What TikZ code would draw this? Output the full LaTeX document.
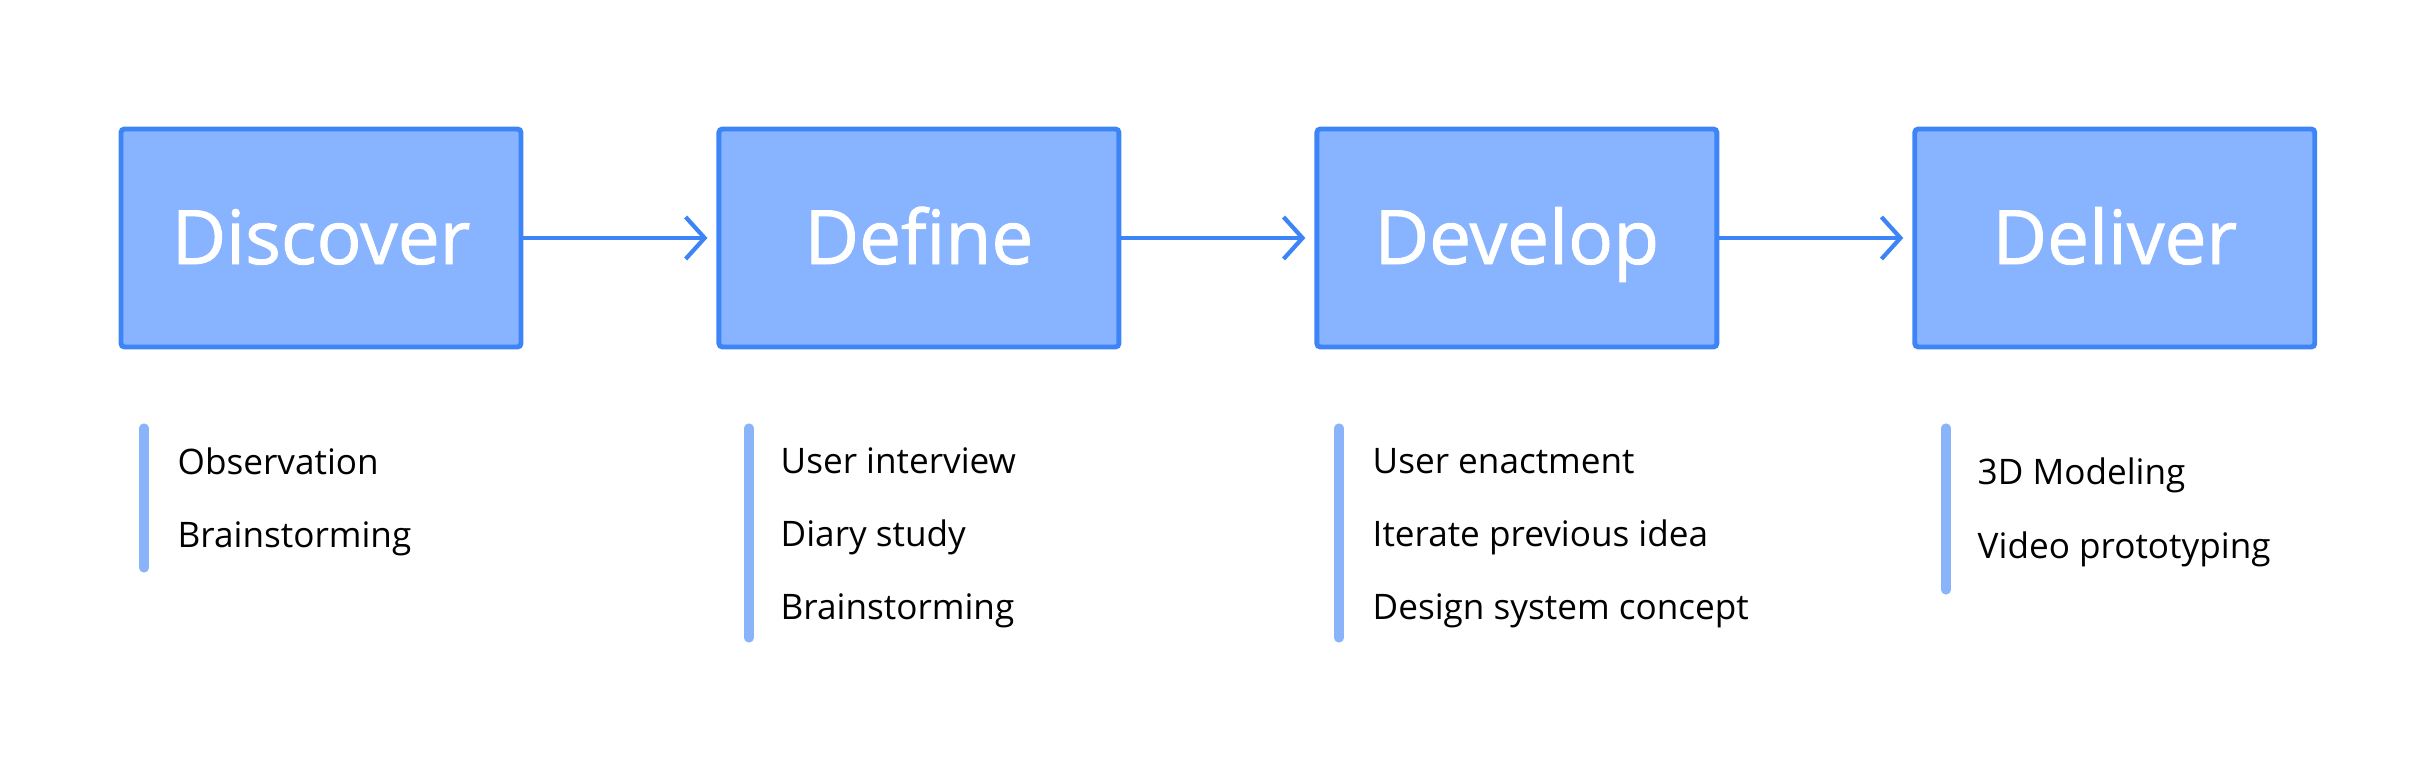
\documentclass[tikz,border=0pt]{standalone}
\usepackage{fontspec}
\setmainfont{Open Sans}
\newfontfamily\stagefont[FakeBold=1.2]{Open Sans}
\usepackage{tikz}
\usetikzlibrary{positioning,arrows.meta}
\definecolor{boxfill}{RGB}{136, 179, 255}
\definecolor{boxline}{RGB}{61, 133, 247}
\definecolor{barfig}{RGB}{138, 180, 250}
\tikzset{
    stagebox/.style={draw=boxline, fill=boxfill, line width=1.4pt, rounded corners=1pt,
        minimum width=4.0cm, minimum height=2.18cm, text=white,
        text height=14.8pt, text depth=0pt,
        font=\stagefont\fontsize{21.3}{25}\selectfont},
    flowarrow/.style={line width=1.2pt, color=boxline, line cap=round,
        -{Straight Barb[length=1.9mm, width=4.2mm, line width=1.2pt]}},
    listbar/.style={line width=2.6pt, color=barfig, line cap=round},
    listitem/.style={anchor=base west, inner sep=0pt, font=\fontsize{10}{12}\selectfont}
}
\begin{document}
\begin{tikzpicture}
        \useasboundingbox (0,0) rectangle (24.33,7.65);
        
        \node[stagebox] (discover) at (3.21,5.27) {Discover};
        \node[stagebox, right=1.93cm of discover] (define) {Define};
        \node[stagebox, right=1.93cm of define] (develop) {Develop};
        \node[stagebox, right=1.93cm of develop] (deliver) {Deliver};
        
        \draw[flowarrow] (discover.east) -- ([xshift=-0.09cm]define.west);
        \draw[flowarrow] (define.east) -- ([xshift=-0.09cm]develop.west);
        \draw[flowarrow] (develop.east) -- ([xshift=-0.09cm]deliver.west);
        
        % lists under the stages
        \draw[listbar] (1.44,3.37) -- (1.44,1.97);
        \node[listitem] (obs) at (1.77,2.90) {Observation};
        \node[listitem] (brainA) at (1.77,2.17) {Brainstorming};
        
        \draw[listbar] (7.49,3.37) -- (7.49,1.27);
        \node[listitem] (interview) at (7.80,2.91) {User interview};
        \node[listitem] (diary) at (7.80,2.18) {Diary study};
        \node[listitem] (brainB) at (7.80,1.45) {Brainstorming};
        
        \draw[listbar] (13.39,3.37) -- (13.39,1.27);
        \node[listitem] (enact) at (13.72,2.91) {User enactment};
        \node[listitem] (iterate) at (13.72,2.18) {Iterate previous idea};
        \node[listitem] (concept) at (13.72,1.45) {Design system concept};
        
        \draw[listbar] (19.46,3.37) -- (19.46,1.75);
        \node[listitem] (modeling) at (19.77,2.80) {3D Modeling};
        \node[listitem] (video) at (19.77,2.06) {Video prototyping};
        
    \end{tikzpicture}
\end{document}
